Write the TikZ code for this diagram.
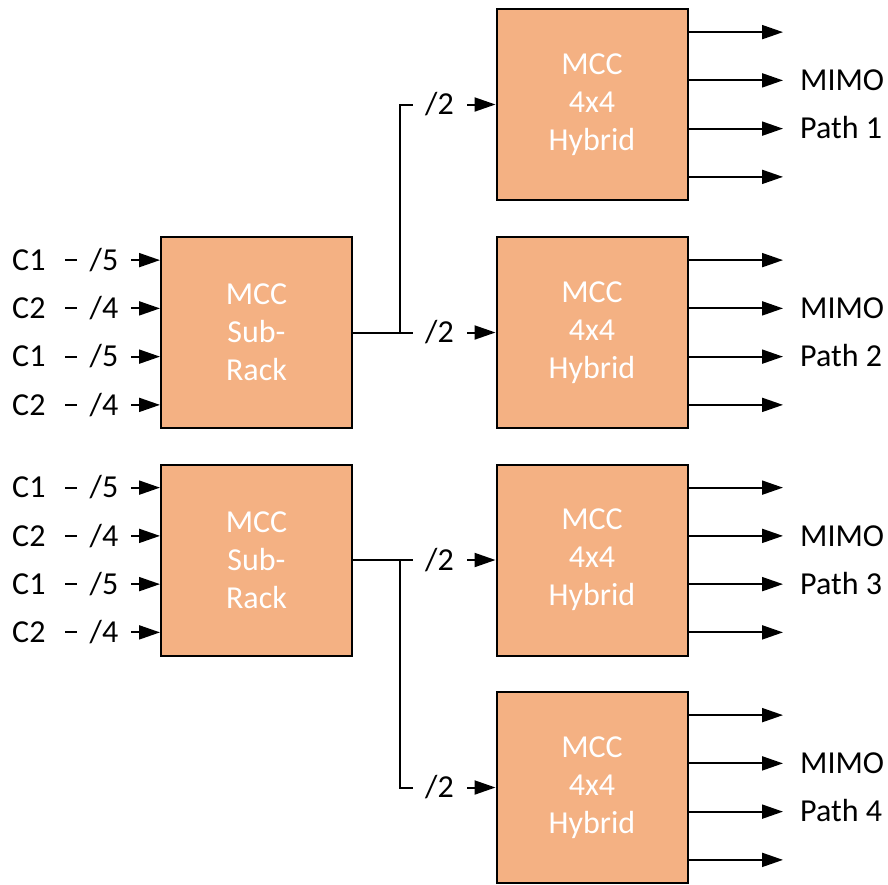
\documentclass[tikz,border=0pt]{standalone}
\usepackage{fontspec}
\setmainfont{Carlito}
\usetikzlibrary{arrows.meta,calc}
\definecolor{boxfill}{RGB}{244,177,131}
\tikzset{
  blk/.style={draw=black, line width=2pt, fill=boxfill, minimum width=191pt, minimum height=191pt,
    inner sep=0pt, text=white, align=center, font=\fontsize{32}{38}\selectfont},
  lbl/.style={inner sep=0pt, font=\fontsize{32}{38}\selectfont, text height=20.5pt, text depth=0pt},
  cut/.style={lbl, fill=white, minimum width=54pt, minimum height=34pt},
  wire/.style={line width=2pt},
  arr/.style={wire, -{Triangle[length=21pt,width=14pt]}},
}
\begin{document}
\begin{tikzpicture}[x=1pt,y=-1pt]
\useasboundingbox (0,0) rectangle (888,884);
% reference x positions
\coordinate (xc) at (12,0);
\coordinate (xd) at (65,0);
\coordinate (xl) at (104,0);
\coordinate (bus) at (400,0);
\coordinate (xt) at (439.5,0);
\coordinate (xo) at (783,0);
\coordinate (xm) at (800,0);
% blocks
\node[blk] (sr1) at (256.5,332.5) {MCC\\Sub-\\Rack};
\node[blk] (sr2) at (256.5,560) {MCC\\Sub-\\Rack};
\node[blk] (h1) at (592,104.5) {MCC\\4x4\\Hybrid};
\node[blk] (h2) at (592,332.5) {MCC\\4x4\\Hybrid};
\node[blk] (h3) at (592,560) {MCC\\4x4\\Hybrid};
\node[blk] (h4) at (592,787.5) {MCC\\4x4\\Hybrid};
% inputs
\foreach \s in {sr1,sr2}{
  \foreach \i/\f/\c/\d in {1/0.125/C1/5, 2/0.375/C2/4, 3/0.625/C1/5, 4/0.875/C2/4}{
    \coordinate (\s in\i) at ($(\s.north west)!\f!(\s.south west)$);
    \coordinate (\s d\i) at (\s in\i -| xd);
    \node[lbl, anchor=west] (\s c\i) at (\s in\i -| xc) {\c};
    \draw[arr] (\s d\i) -- (\s in\i);
    \node[cut] (\s l\i) at (\s in\i -| xl) {/\d};
  }
}
% splits
\coordinate (t1) at (h1.west -| bus);
\coordinate (t4) at (h4.west -| bus);
\draw[arr] (sr1.east) -| (t1) -- (h1.west);
\draw[arr] (sr1.east) -- (h2.west);
\draw[arr] (sr2.east) -| (t4) -- (h4.west);
\draw[arr] (sr2.east) -- (h3.west);
\foreach \h in {h1,h2,h3,h4}{
  \node[cut] (\h l) at (\h.west -| xt) {/2};
}
% outputs
\foreach \h/\n in {h1/1,h2/2,h3/3,h4/4}{
  \foreach \i/\f in {1/0.125,2/0.375,3/0.625,4/0.875}{
    \coordinate (\h o\i) at ($(\h.north east)!\f!(\h.south east)$);
    \coordinate (\h e\i) at (\h o\i -| xo);
    \draw[arr] (\h o\i) -- (\h e\i);
  }
  \node[lbl, anchor=west] (\h m1) at (\h o2 -| xm) {MIMO};
  \node[lbl, anchor=west] (\h m2) at (\h o3 -| xm) {Path \n};
}
\end{tikzpicture}
\end{document}
